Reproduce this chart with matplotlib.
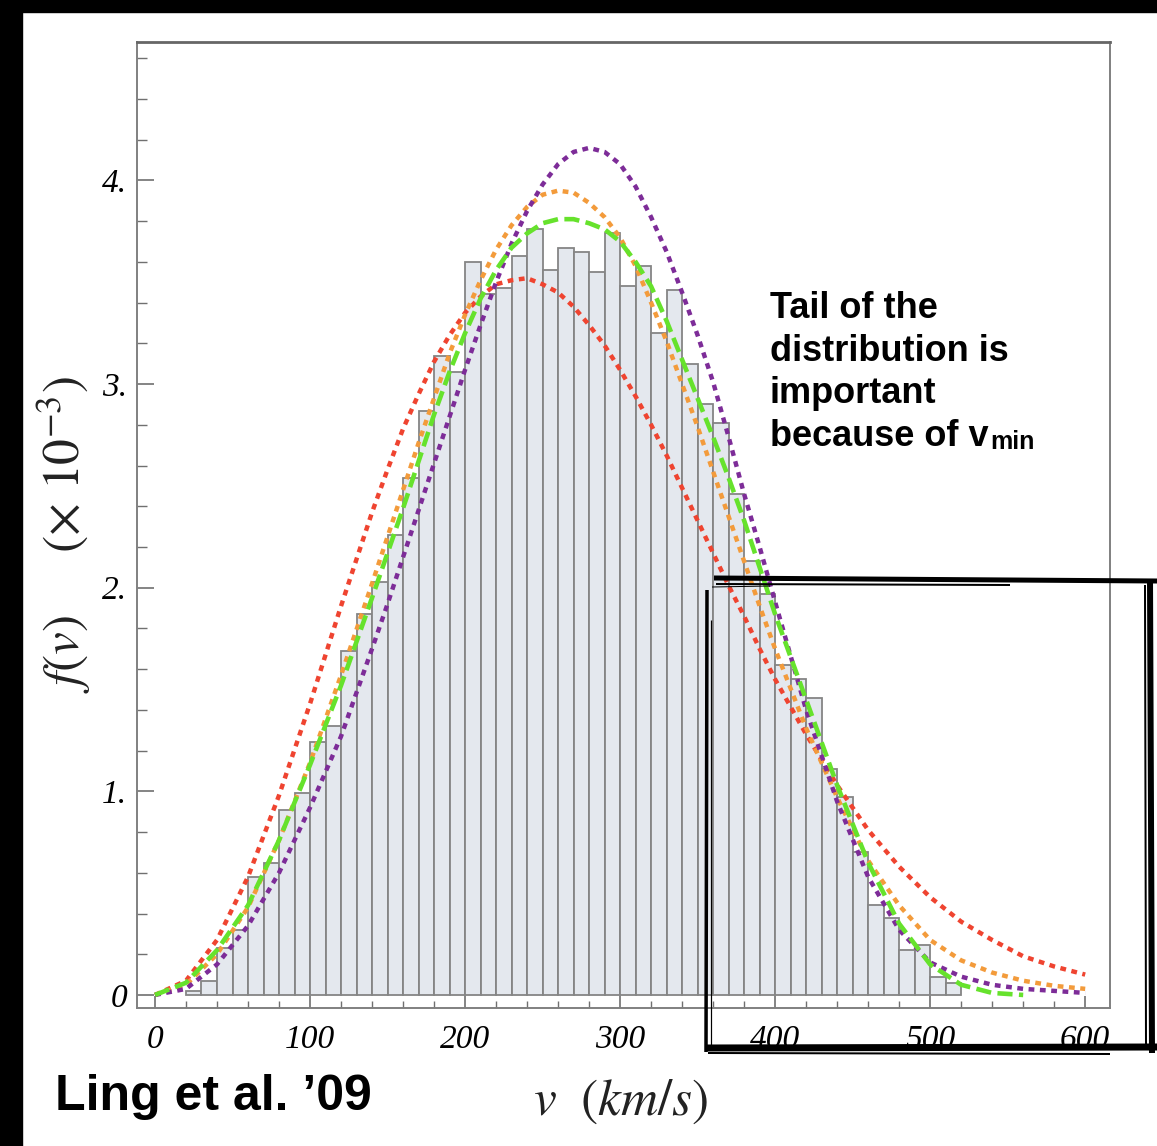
import matplotlib
matplotlib.use('Agg')
import matplotlib.pyplot as plt
from matplotlib.lines import Line2D
from matplotlib.patches import Rectangle

plt.rcParams['mathtext.fontset'] = 'stix'

# histogram: left edges of 10 km/s bins and heights (x 10^-3)
bin_left = [20, 30, 40, 50, 60, 70, 80, 90, 100, 110,
            120, 130, 140, 150, 160, 170, 180, 190, 200, 210,
            220, 230, 240, 250, 260, 270, 280, 290, 300, 310,
            320, 330, 340, 350, 360, 370, 380, 390, 400, 410,
            420, 430, 440, 450, 460, 470, 480, 490, 500, 510]
bin_height = [0.02, 0.07, 0.23, 0.32, 0.58, 0.65, 0.91, 0.99, 1.24, 1.32,
              1.69, 1.87, 2.03, 2.26, 2.54, 2.87, 3.14, 3.06, 3.60, 3.44,
              3.47, 3.63, 3.76, 3.56, 3.67, 3.65, 3.55, 3.74, 3.48, 3.58,
              3.25, 3.46, 3.10, 2.90, 2.81, 2.46, 2.13, 1.97, 1.62, 1.55,
              1.46, 1.11, 0.97, 0.70, 0.44, 0.38, 0.22, 0.245, 0.09, 0.06]

# fitted curves
v_curve = [0, 20, 40, 60, 80, 100, 120, 140, 150, 160, 170, 180, 190, 200, 210, 220,
           230, 240, 250, 260, 270, 280, 290, 300, 310, 320, 330, 340, 350, 360, 370,
           380, 390, 400, 420, 440, 460, 480, 500, 520, 540, 560, 580, 600]
f_red = [0.0, 0.07, 0.27, 0.58, 0.98, 1.43, 1.91, 2.37, 2.58, 2.78, 2.95, 3.11, 3.24, 3.35, 3.43, 3.49,
         3.51, 3.52, 3.49, 3.45, 3.38, 3.29, 3.19, 3.07, 2.94, 2.80, 2.65, 2.49, 2.33, 2.17, 2.01,
         1.86, 1.70, 1.55, 1.28, 1.03, 0.81, 0.63, 0.48, 0.36, 0.27, 0.19, 0.14, 0.10]
f_orange = [0.0, 0.05, 0.20, 0.43, 0.76, 1.14, 1.57, 2.02, 2.25, 2.48, 2.71, 2.93, 3.15, 3.34, 3.51, 3.66,
            3.78, 3.87, 3.93, 3.95, 3.94, 3.89, 3.82, 3.72, 3.58, 3.40, 3.21, 3.00, 2.79, 2.57, 2.35,
            2.13, 1.91, 1.70, 1.31, 0.97, 0.66, 0.44, 0.27, 0.17, 0.11, 0.07, 0.045, 0.03]
f_purple = [0.0, 0.03, 0.15, 0.34, 0.60, 0.92, 1.27, 1.70, 1.92, 2.15, 2.38, 2.61, 2.84, 3.07, 3.29, 3.50,
            3.69, 3.85, 3.98, 4.08, 4.14, 4.16, 4.14, 4.08, 3.97, 3.82, 3.65, 3.45, 3.24, 3.01, 2.74,
            2.46, 2.20, 1.93, 1.40, 0.95, 0.58, 0.32, 0.16, 0.09, 0.05, 0.03, 0.02, 0.01]
v_green = v_curve[:42]
f_green = [0.0, 0.06, 0.22, 0.44, 0.76, 1.13, 1.52, 1.95, 2.17, 2.39, 2.62, 2.85, 3.06, 3.25, 3.42, 3.56,
           3.67, 3.74, 3.79, 3.81, 3.81, 3.79, 3.76, 3.70, 3.60, 3.48, 3.31, 3.12, 2.93, 2.74, 2.54,
           2.33, 2.10, 1.87, 1.45, 1.03, 0.65, 0.35, 0.15, 0.05, 0.01, 0.0]

x_ticks = [0, 100, 200, 300, 400, 500, 600]
y_ticks = [0, 1, 2, 3, 4]
y_ticklabels = ['0', '1.', '2.', '3.', '4.']

W, H = 1157, 1146
fig = plt.figure(figsize=(W / 100, H / 100), dpi=100)
fig.patch.set_facecolor('white')

ax = fig.add_axes([137 / W, 1 - 1008 / H, (1110 - 137) / W, (1008 - 42) / H])

ax.bar(bin_left, bin_height, width=10, align='edge', facecolor='#e4e8ee',
       edgecolor='#858585', linewidth=1.3, zorder=1)

dots = (0, (1.3, 1.25))
ax.plot(v_curve, f_red, color='#ef4430', lw=3.2, linestyle=dots, zorder=3)
ax.plot(v_curve, f_orange, color='#f39b3b', lw=3.2, linestyle=dots, zorder=3)
ax.plot(v_green, f_green, color='#66e22c', lw=3.3, linestyle=(0, (3.3, 1.4)), zorder=4)
ax.plot(v_curve, f_purple, color='#7d2c98', lw=3.2, linestyle=dots, zorder=3)

ax.set_xlim(-11.6, 616)
ax.set_ylim(-0.064, 4.68)

for side in ['left', 'right', 'top', 'bottom']:
    ax.spines[side].set_color('#808080')
    ax.spines[side].set_linewidth(1.4)
ax.spines['top'].set_linewidth(2.0)
ax.spines['top'].set_color('#666666')

tick_font = dict(family='Liberation Serif', style='italic', size=24)
ax.set_xticks(x_ticks)
ax.set_xticklabels([str(t) for t in x_ticks], fontdict=tick_font)
ax.set_xticks(list(range(0, 601, 20)), minor=True)
ax.set_yticks(y_ticks)
ax.set_yticklabels(y_ticklabels, fontdict=tick_font)
ax.set_yticks([round(0.2 * i, 1) for i in range(24)], minor=True)

ax.tick_params(axis='x', which='major', direction='in', length=9, width=1.2, color='#707070', pad=12)
ax.tick_params(axis='x', which='minor', direction='in', length=5, width=1.0, color='#707070')
ax.tick_params(axis='y', which='major', direction='in', length=12, width=1.2, color='#707070', pad=7)
ax.tick_params(axis='y', which='minor', direction='in', length=7, width=1.0, color='#707070')

ax.set_ylabel(r'$f(v)\quad\ \ (\times\ 10^{-3})$', fontsize=37, color='#222222')
ax.yaxis.set_label_coords(-0.045, 0.49)
ax.set_xlabel(r'$v\ \ (km/s)$', fontsize=37, color='#222222')
ax.xaxis.set_label_coords(0.497, -0.07)

# annotation text
ann_font = dict(family=['Liberation Sans', 'DejaVu Sans'], weight='bold', size=26, color='black')
lines = ['Tail of the', 'distribution is', 'important', 'because of v']
baselines = [318, 361, 403, 446]
last = None
for txt, yb in zip(lines, baselines):
    last = fig.text(770 / W, 1 - yb / H, txt, va='baseline', ha='left', **ann_font)
ax.annotate('min', xy=(1.0, 0.0), xycoords=last, xytext=(1, 0), textcoords='offset points',
            va='bottom', ha='left', fontsize=18, fontweight='bold',
            family=['Liberation Sans', 'DejaVu Sans'], annotation_clip=False)

fig.text(55 / W, 1 - 1110 / H, 'Ling et al. \u201909', va='baseline', ha='left',
         family=['Liberation Sans Narrow', 'Liberation Sans'], weight='bold', size=36)

# black frame around the slide
fig.add_artist(Rectangle((0, 0), 22 / W, 1, transform=fig.transFigure, color='black'))
fig.add_artist(Rectangle((0, 1 - 12 / H), 1, 12 / H, transform=fig.transFigure, color='black'))

# hand-drawn box around the tail
def px_line(x0, y0, x1, y1, w):
    fig.add_artist(Line2D([x0 / W, x1 / W], [1 - y0 / H, 1 - y1 / H], transform=fig.transFigure,
                          color='black', linewidth=w * 0.72, solid_capstyle='butt'))

px_line(714, 578, 1157, 581, 5)
px_line(716, 584, 1010, 585, 2)
px_line(712, 587, 770, 586, 1)
px_line(1150, 579, 1152, 1053, 6)
px_line(1145, 585, 1146, 1046, 2)
px_line(705, 1048, 1157, 1047, 7)
px_line(708, 1053, 1110, 1054, 2)
px_line(707, 590, 706, 1052, 3.5)
px_line(711, 620, 711, 1046, 1.2)

fig.savefig('out.png', dpi=100, facecolor='white')
